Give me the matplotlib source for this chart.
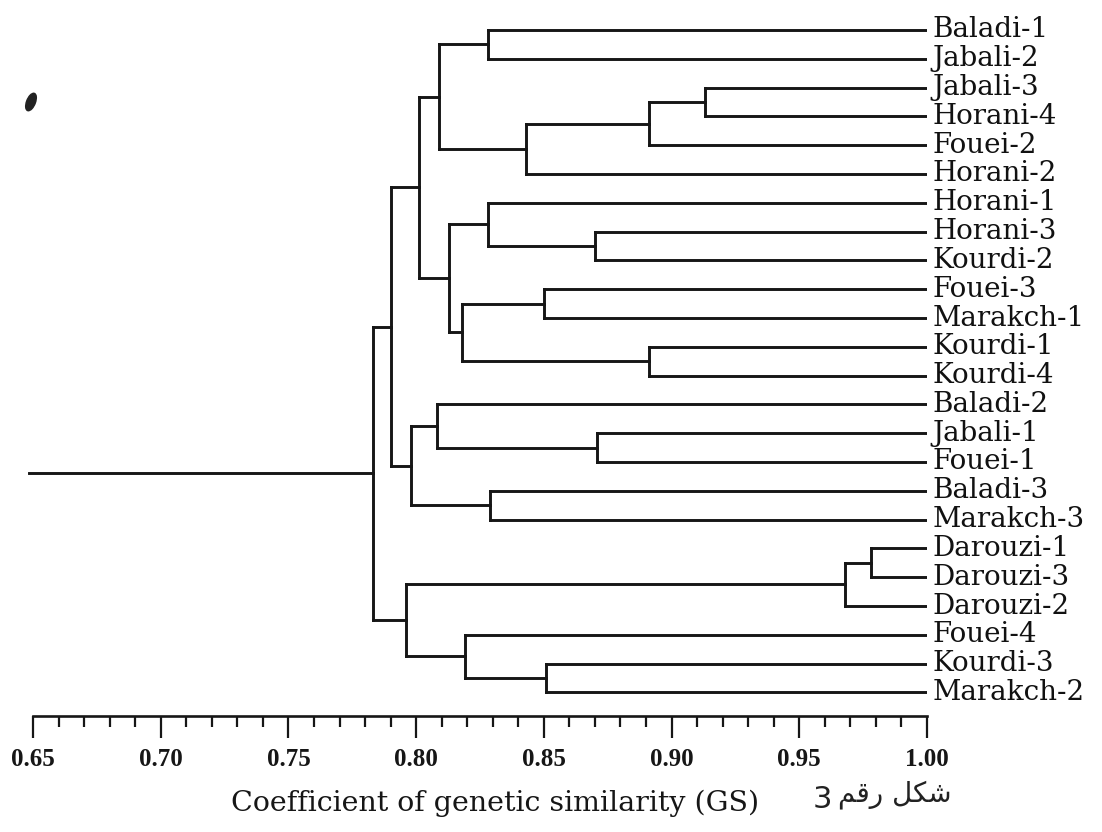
import matplotlib
matplotlib.use("Agg")
import matplotlib.pyplot as plt
from matplotlib.ticker import MultipleLocator
from matplotlib.patches import Ellipse
from matplotlib import font_manager

# ---- data -------------------------------------------------------------
leaves = ["Baladi-1", "Jabali-2", "Jabali-3", "Horani-4", "Fouei-2", "Horani-2",
          "Horani-1", "Horani-3", "Kourdi-2", "Fouei-3", "Marakch-1", "Kourdi-1",
          "Kourdi-4", "Baladi-2", "Jabali-1", "Fouei-1", "Baladi-3", "Marakch-3",
          "Darouzi-1", "Darouzi-3", "Darouzi-2", "Fouei-4", "Kourdi-3", "Marakch-2"]

merge_ids   = ["B", "C", "A", "D", "E", "F", "G", "H", "I", "J", "K", "L",
               "M", "N", "O", "P", "Q", "R", "S", "T", "U", "V", "W"]
merge_left  = ["Jabali-3", "B", "Baladi-1", "C", "A", "Horani-3", "Horani-1",
               "Fouei-3", "Kourdi-1", "H", "G", "E", "Jabali-1", "Baladi-2",
               "Baladi-3", "N", "L", "Darouzi-1", "R", "Kourdi-3", "Fouei-4", "S", "Q"]
merge_right = ["Horani-4", "Fouei-2", "Jabali-2", "Horani-2", "D", "Kourdi-2", "F",
               "Marakch-1", "Kourdi-4", "I", "J", "K", "Fouei-1", "M",
               "Marakch-3", "O", "P", "Darouzi-3", "Darouzi-2", "Marakch-2", "T", "U", "V"]
merge_sim   = [0.913, 0.891, 0.828, 0.843, 0.809, 0.870, 0.828,
               0.850, 0.891, 0.818, 0.813, 0.801, 0.871, 0.808,
               0.829, 0.798, 0.790, 0.978, 0.968, 0.851, 0.819, 0.796, 0.783]

x_min, x_max = 0.65, 1.00
major_ticks = [0.65, 0.70, 0.75, 0.80, 0.85, 0.90, 0.95, 1.00]
tick_labels = ["0.65", "0.70", "0.75", "0.80", "0.85", "0.90", "0.95", "1.00"]
x_label = "Coefficient of genetic similarity (GS)"
note_number = "3"
note_arabic = "\ufee2\ufed7\ufead \ufede\ufedc\ufeb7"   # شكل رقم (visual order)


def has_font(name):
    try:
        font_manager.findfont(font_manager.FontProperties(family=name),
                              fallback_to_default=False)
        return True
    except Exception:
        return False


tick_family = "DejaVu Serif Condensed" if has_font("DejaVu Serif Condensed") else "Liberation Serif"

# ---- figure -----------------------------------------------------------
W, H = 1102, 832
fig = plt.figure(figsize=(W / 100, H / 100), dpi=100)
fig.patch.set_facecolor("white")
left_px, right_px, top_px, bottom_px = 33, 927, 20, 716
ax = fig.add_axes([left_px / W, 1 - bottom_px / H,
                   (right_px - left_px) / W, (bottom_px - top_px) / H])

leaf_step = 28.8
first_leaf_px = 30
ax.set_xlim(x_min, x_max)
ax.set_ylim((bottom_px - first_leaf_px) / leaf_step, (top_px - first_leaf_px) / leaf_step)

ink = "#161616"
line_kw = dict(color=ink, lw=2.1, solid_capstyle="projecting")

pos = {name: (x_max, i) for i, name in enumerate(leaves)}
for mid, l, r, s in zip(merge_ids, merge_left, merge_right, merge_sim):
    xl, yl = pos[l]
    xr, yr = pos[r]
    ax.plot([xl, s], [yl, yl], **line_kw)
    ax.plot([xr, s], [yr, yr], **line_kw)
    ax.plot([s, s], [yl, yr], **line_kw)
    pos[mid] = (s, (yl + yr) / 2)

root_x, root_y = pos[merge_ids[-1]]
ax.plot([x_min - 0.0015, root_x], [root_y, root_y], clip_on=False, **line_kw)

for i, name in enumerate(leaves):
    ax.annotate(name, xy=(x_max, i), xytext=(4, 0), textcoords="offset points",
                ha="left", va="center", fontsize=20, family="DejaVu Serif",
                color="#111111", annotation_clip=False)

for side in ["top", "left", "right"]:
    ax.spines[side].set_visible(False)
ax.spines["bottom"].set_linewidth(1.9)
ax.spines["bottom"].set_color(ink)
ax.set_yticks([])
ax.set_xticks(major_ticks)
ax.set_xticklabels(tick_labels, fontsize=17 if tick_family != "Liberation Serif" else 18,
                   family=tick_family, fontweight="bold", color=ink)
ax.xaxis.set_minor_locator(MultipleLocator(0.01))
ax.tick_params(axis="x", which="major", direction="out", length=16, width=1.6,
               pad=7, color=ink)
ax.tick_params(axis="x", which="minor", direction="out", length=8, width=1.6,
               color=ink)
ax.patch.set_alpha(0)

fig.text(495 / W, 1 - 803 / H, x_label, ha="center", va="center",
         fontsize=20.5, family="DejaVu Serif", color=ink)
fig.text(822 / W, 1 - 800 / H, note_number, ha="center", va="center",
         fontsize=22, family="DejaVu Sans", color="#222222")
fig.text(895 / W, 1 - 795 / H, note_arabic, ha="center", va="center",
         fontsize=20, family="DejaVu Sans", color="#222222")

# small ink speck from the scan, upper left
fig.patches.append(Ellipse((31 / W, 1 - 102 / H), 9 / W, 18 / H, angle=-15,
                           transform=fig.transFigure, color="#222222"))

fig.savefig("out.png", dpi=100, facecolor="white")
